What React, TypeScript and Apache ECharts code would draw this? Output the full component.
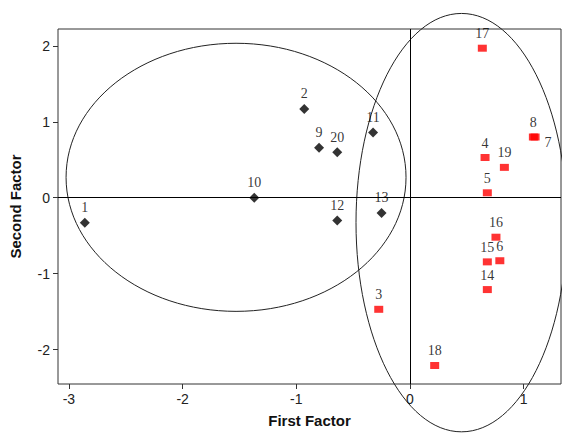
import React, { useEffect, useRef } from "react";
import * as echarts from "echarts";

const groupALabels = ["1", "2", "9", "20", "11", "10", "12", "13"];
const groupAX = [-2.86, -0.93, -0.8, -0.64, -0.325, -1.37, -0.64, -0.25];
const groupAY = [-0.33, 1.17, 0.66, 0.6, 0.86, 0.0, -0.3, -0.2];

const groupBLabels = ["17", "8", "7", "4", "19", "5", "16", "15", "6", "14", "3", "18"];
const groupBX = [0.636, 1.085, 1.1, 0.66, 0.83, 0.68, 0.756, 0.68, 0.79, 0.68, -0.275, 0.217];
const groupBY = [1.97, 0.8, 0.8, 0.53, 0.4, 0.065, -0.52, -0.845, -0.83, -1.21, -1.47, -2.21];

const ellipseCenterX = [-1.53, 0.453];
const ellipseCenterY = [0.269, -0.328];
const ellipseRadiusX = [1.495, 0.928];
const ellipseRadiusY = [1.766, 2.756];

const xTicks = [-3, -2, -1, 0, 1];
const yTicks = [-2, -1, 0, 1, 2];

const labelFont = {
  fontFamily: "Liberation Serif",
  fontSize: 14,
  color: "#000",
  textBorderWidth: 0,
};

export default function App() {
  const ref = useRef<HTMLDivElement>(null);
  useEffect(() => {
    if (!ref.current) return;
    const chart = echarts.init(ref.current, undefined, { renderer: "svg" });
    const dataA = groupAX.map((x, i) => ({ value: [x, groupAY[i]], name: groupALabels[i] }));
    const dataB = groupBX.map((x, i) => {
      const item: any = { value: [x, groupBY[i]], name: groupBLabels[i] };
      if (groupBLabels[i] === "7") {
        item.label = { position: "right", offset: [0, 5], distance: 5 };
      }
      return item;
    });
    const ellipses = ellipseCenterX.map((cx, i) => [cx, ellipseCenterY[i], ellipseRadiusX[i], ellipseRadiusY[i]]);
    chart.setOption({
      animation: false,
      backgroundColor: "#fff",
      grid: {
        left: 58,
        top: 29,
        right: 1,
        bottom: 46,
        show: true,
        borderColor: "#333",
        borderWidth: 1,
        backgroundColor: "transparent",
      },
      xAxis: {
        type: "value",
        min: -3.096,
        max: 1.328,
        name: "First Factor",
        nameLocation: "middle",
        nameGap: 29,
        nameTextStyle: { fontFamily: "Liberation Sans", fontWeight: "bold", fontSize: 15, color: "#111" },
        axisLine: { show: false, onZero: false },
        splitLine: { show: false },
        axisTick: { show: true, length: 5, lineStyle: { color: "#333" }, customValues: xTicks },
        axisLabel: {
          customValues: xTicks,
          margin: 8,
          fontFamily: "Liberation Sans",
          fontSize: 14,
          color: "#222",
        },
      },
      yAxis: {
        type: "value",
        min: -2.454,
        max: 2.223,
        name: "Second Factor",
        nameLocation: "middle",
        nameGap: 35,
        nameTextStyle: { fontFamily: "Liberation Sans", fontWeight: "bold", fontSize: 15, color: "#111" },
        axisLine: { show: false, onZero: false },
        splitLine: { show: false },
        axisTick: { show: true, length: 5, lineStyle: { color: "#333" }, customValues: yTicks },
        axisLabel: {
          customValues: yTicks,
          margin: 8,
          fontFamily: "Liberation Sans",
          fontSize: 14,
          color: "#222",
        },
      },
      series: [
        {
          type: "custom",
          silent: true,
          clip: false,
          data: ellipses,
          renderItem: (params: any, api: any) => {
            const c = api.coord([api.value(0), api.value(1)]);
            const s = api.size([api.value(2), api.value(3)]);
            return {
              type: "ellipse",
              shape: { cx: c[0], cy: c[1], rx: s[0], ry: s[1] },
              style: { fill: "none", stroke: "#222", lineWidth: 1 },
            };
          },
          z: 1,
        },
        {
          type: "scatter",
          data: dataA,
          symbol: "diamond",
          symbolSize: 10,
          itemStyle: { color: "#000" },
          label: {
            show: true,
            position: "top",
            distance: 3,
            formatter: "{b}",
            ...labelFont,
          },
          markLine: {
            silent: true,
            symbol: "none",
            label: { show: false },
            lineStyle: { color: "#000", type: "solid", width: 1 },
            data: [{ xAxis: 0 }, { yAxis: 0 }],
          },
          z: 3,
        },
        {
          type: "scatter",
          data: dataB,
          symbol: "rect",
          symbolSize: [9, 7],
          itemStyle: { color: "#ff0000" },
          label: {
            show: true,
            position: "top",
            distance: 4,
            formatter: "{b}",
            ...labelFont,
          },
          z: 3,
        },
      ],
    });
    return () => chart.dispose();
  }, []);
  return (
    <div
      ref={ref}
      style={{ position: "fixed", left: 0, top: 0, width: 562, height: 433 }}
    />
  );
}
